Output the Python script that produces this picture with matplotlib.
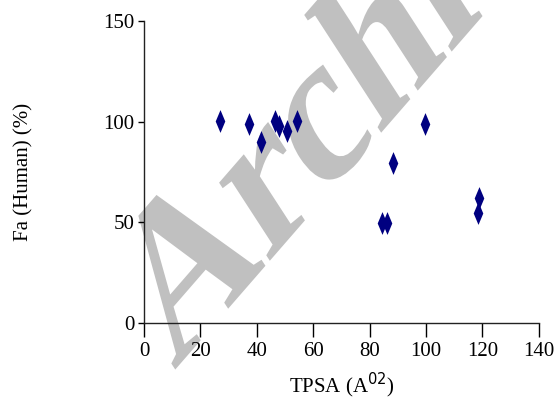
import numpy as np
import matplotlib.pyplot as plt
from matplotlib.path import Path
from matplotlib.textpath import TextPath
from matplotlib.patches import PathPatch
from matplotlib.font_manager import FontProperties
from matplotlib.transforms import Affine2D, IdentityTransform

# data
tpsa = [26.9, 37.2, 41.4, 46.5, 47.9, 50.7, 54.1, 84.3, 86.1, 88.4, 99.6, 118.8, 118.3]
fa_human = [100.3, 98.9, 90.1, 100.3, 98.0, 95.3, 100.3, 49.5, 49.5, 79.3, 98.7, 61.9, 54.8]

xticks = [0, 20, 40, 60, 80, 100, 120, 140]
yticks = [0, 50, 100, 150]

plt.rcParams['font.family'] = ['Liberation Serif', 'DejaVu Serif']

fig = plt.figure(figsize=(5.56, 4.03), dpi=100)
ax = fig.add_axes([0.259, 0.1985, 0.71, 0.7495])
ax.patch.set_alpha(0)

# slim diamond marker like the original
diamond = Path([(0, 1), (0.42, 0), (0, -1), (-0.42, 0), (0, 1)],
               [Path.MOVETO, Path.LINETO, Path.LINETO, Path.LINETO, Path.CLOSEPOLY])
ax.scatter(tpsa, fa_human, marker=diamond, s=270, color='#000080', linewidths=0, zorder=3)

ax.set_xlim(0, 140)
ax.set_ylim(0, 150)
ax.set_xticks(xticks)
ax.set_yticks(yticks)
ax.spines['top'].set_visible(False)
ax.spines['right'].set_visible(False)
for s in ('left', 'bottom'):
    ax.spines[s].set_linewidth(1.0)
    ax.spines[s].set_color('#222222')
ax.tick_params(axis='x', direction='out', length=10, width=1, labelsize=15, pad=4)
ax.tick_params(axis='y', direction='out', length=4, width=1, labelsize=15, pad=3)

ax.set_xlabel('TPSA (A$^{02}$)', fontsize=15, labelpad=7)
ax.set_ylabel('Fa (Human) (%)', fontsize=15, labelpad=50)

# grey watermark behind the plot (bold serif, skewed to look italic)
wm = TextPath((0, 0), 'Archive', size=195,
              prop=FontProperties(family='Liberation Serif', weight='bold'))
wm_tr = Affine2D().skew_deg(16, 0).rotate_deg(49).translate(174, 32)
fig.patches.append(PathPatch(wm_tr.transform_path(wm), facecolor='#c0c0c0',
                             edgecolor='none', transform=IdentityTransform(),
                             figure=fig, zorder=-1))

fig.savefig('out.png', dpi=100)
